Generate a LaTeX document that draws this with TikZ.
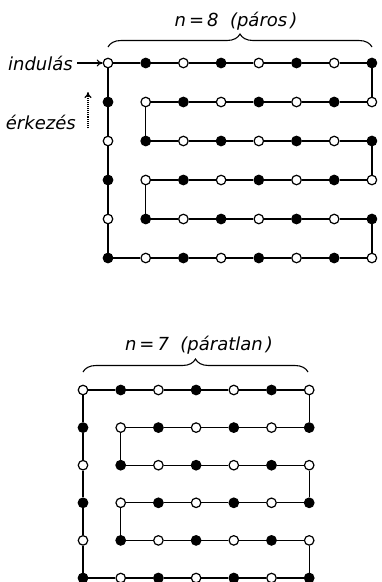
\documentclass[tikz,border=0pt]{standalone}
\usepackage{fontspec}
\setmainfont{DejaVu Sans}
\usetikzlibrary{decorations.pathreplacing,arrows.meta}
\tikzset{
  dotw/.style={circle,draw=black,fill=white,line width=1.2pt,inner sep=0pt,minimum size=9.5pt},
  dotb/.style={circle,draw=black,fill=black,line width=1.2pt,inner sep=0pt,minimum size=9.5pt},
  edge/.style={line width=1.2pt},
  lbl/.style={font=\fontsize{18}{21}\selectfont\itshape,inner sep=0pt},
  brc/.style={line width=1.1pt,decorate,decoration={brace,amplitude=13pt}},
  arr/.style={line width=1.1pt,-{To[length=6pt,width=7pt]}}
}
\begin{document}
\begin{tikzpicture}[x=1pt,y=-1pt]
\useasboundingbox (0,0) rectangle (382,582);
% ---------- top grid n=8 ----------
\foreach \r in {0,...,5}{
  \foreach \c in {0,...,7}{
    \pgfmathtruncatemacro{\pty}{mod(\r+\c,2)}
    \ifnum\pty=0
      \node[dotw] (a-\r-\c) at ({108+37.7*\c},{63+39*\r}) {};
    \else
      \node[dotb] (a-\r-\c) at ({108+37.7*\c},{63+39*\r}) {};
    \fi
  }
}
\foreach \c [count=\d from 1] in {0,...,6}{
  \draw[edge] (a-0-\c) -- (a-0-\d);
  \draw[edge] (a-5-\c) -- (a-5-\d);
}
\foreach \r in {1,...,4}{
  \foreach \c [count=\d from 2] in {1,...,6}{
    \draw[edge] (a-\r-\c) -- (a-\r-\d);
  }
}
\foreach \r [count=\s from 1] in {0,...,4}{
  \draw[edge] (a-\r-0) -- (a-\s-0);
}
\draw[edge] (a-0-7) -- (a-1-7);
\draw[edge] (a-2-7) -- (a-3-7);
\draw[edge] (a-4-7) -- (a-5-7);
\draw[edge] (a-1-1) -- (a-2-1);
\draw[edge] (a-3-1) -- (a-4-1);
% labels top
\node[lbl] (t8) at (236,21) {n\,=\,8\ \ (páros\,)};
\coordinate (b8l) at (108,47);
\coordinate (b8r) at (372,47);
\draw[brc] (b8l) -- (b8r);
\node[lbl,anchor=east] (ind) at (73,63) {indulás};
\coordinate (indS) at (77,63);
\draw[arr] (indS) -- (a-0-0);
\node[lbl,anchor=east] (erk) at (76,122) {érkezés};
\coordinate (erkS) at (88,128);
\coordinate (erkE) at (88,92);
\draw[arr,densely dotted] (erkS) -- (erkE);
% ---------- bottom grid n=7 ----------
\foreach \r in {0,...,5}{
  \foreach \c in {0,...,6}{
    \pgfmathtruncatemacro{\pty}{mod(\r+\c,2)}
    \ifnum\pty=0
      \node[dotw] (b-\r-\c) at ({83+37.7*\c},{390+37.6*\r}) {};
    \else
      \node[dotb] (b-\r-\c) at ({83+37.7*\c},{390+37.6*\r}) {};
    \fi
  }
}
\foreach \c [count=\d from 1] in {0,...,5}{
  \draw[edge] (b-0-\c) -- (b-0-\d);
  \draw[edge] (b-5-\c) -- (b-5-\d);
}
\foreach \r in {1,...,4}{
  \foreach \c [count=\d from 2] in {1,...,5}{
    \draw[edge] (b-\r-\c) -- (b-\r-\d);
  }
}
\foreach \r [count=\s from 1] in {0,...,4}{
  \draw[edge] (b-\r-0) -- (b-\s-0);
}
\draw[edge] (b-0-6) -- (b-1-6);
\draw[edge] (b-2-6) -- (b-3-6);
\draw[edge] (b-4-6) -- (b-5-6);
\draw[edge] (b-1-1) -- (b-2-1);
\draw[edge] (b-3-1) -- (b-4-1);
\node[lbl] (t7) at (199,345) {n\,=\,7\ \ (páratlan\,)};
\coordinate (b7l) at (83,372);
\coordinate (b7r) at (308,372);
\draw[brc] (b7l) -- (b7r);
\end{tikzpicture}
\end{document}
